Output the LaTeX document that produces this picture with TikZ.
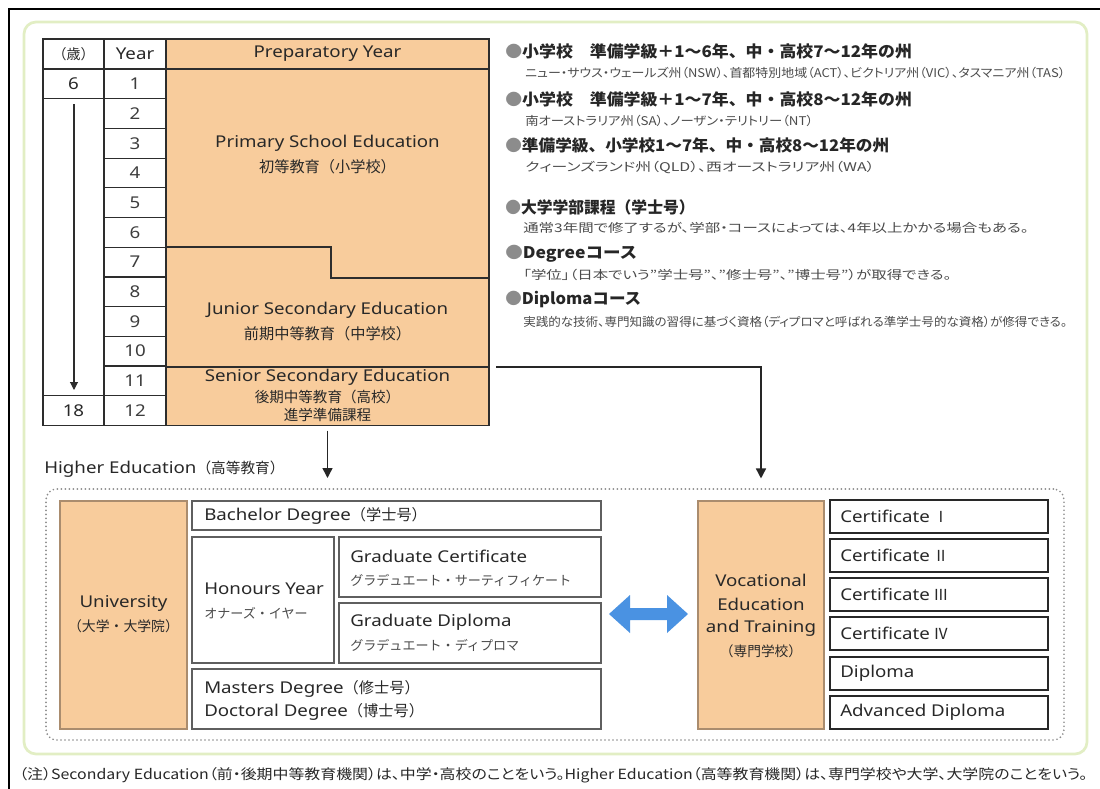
\documentclass[tikz,border=0pt]{standalone}
\usepackage{fontspec}
\usepackage{graphicx}
\setmainfont{Noto Sans CJK JP}
\newfontfamily\jpp[RawFeature=+palt]{Noto Sans CJK JP}
\newfontfamily\lt[FakeStretch=1.15]{Noto Sans}
\usetikzlibrary{arrows.meta,fit,calc}
\definecolor{orfill}{RGB}{248,204,156}
\definecolor{obline}{RGB}{170,140,110}
\definecolor{tline}{RGB}{45,45,45}
\definecolor{wline}{RGB}{95,95,95}
\definecolor{cline}{RGB}{40,40,40}
\definecolor{txt}{RGB}{40,40,40}
\definecolor{subt}{RGB}{75,75,75}
\definecolor{bul}{RGB}{140,140,140}
\definecolor{frm}{RGB}{226,238,196}
\definecolor{blu}{RGB}{74,146,226}
\definecolor{dotc}{RGB}{140,140,140}
\newcommand\fsz[1]{\fontsize{#1}{#1}\selectfont}
\newcommand\LT{\lt\fsz{12.2pt}}
\begin{document}
\begin{tikzpicture}[x=0.75pt,y=-0.75pt,
  cell/.style={draw=tline, line width=0.9pt, inner sep=0pt, fill=white},
  wbox/.style={draw=wline, line width=1.1pt, inner sep=0pt, fill=white},
  cbox/.style={draw=cline, line width=1.4pt, inner sep=0pt, fill=white},
  obox/.style={draw=obline, line width=0.8pt, inner sep=0pt, fill=orfill},
  region/.style={inner sep=0pt},
  t/.style={text=txt, inner sep=0pt, font=\LT},
  jt/.style={text=txt, inner sep=0pt, font=\fsz{11.4pt}},
  js/.style={text=subt, inner sep=0pt, font=\fsz{9.8pt}},
  hd/.style={text=black!85, inner sep=0pt, anchor=west, font=\fsz{12pt}\bfseries},
  sb/.style={text=subt, inner sep=0pt, anchor=west, font=\jpp\fsz{9pt}},
  arr/.style={draw=black!85, line width=1.1pt, -{Triangle[width=7.5pt,length=7.5pt]}},
  tabline/.style={draw=tline, line width=0.9pt}
]
\useasboundingbox (0,0) rectangle (1100,789);
\fill[white] (0,0) rectangle (1100,789);
% outer frame
\draw[line width=1.5pt, black] (9,789) -- (9,9) -- (1100,9);
\draw[frm, line width=2pt, rounded corners=9pt] (24,22) rectangle (1087,754);

% ---------- table ----------
\node[cell, fit={(43,39)(104,69)}] (agehd) {};
\node[jt, font=\fsz{10.5pt}] (agehdt) at (agehd) {（歳）};
\node[cell, fit={(43,69)(104,98.7)}] (age6) {};
\node[t] (age6t) at (age6) {6};
\node[cell, fit={(43,98.7)(104,395.7)}] (agemid) {};
\node[cell, fit={(43,395.7)(104,425.4)}] (age18) {};
\node[t] (age18t) at (age18) {18};
\coordinate (ageTop) at (74,104);
\coordinate (ageBot) at (74,390);
\draw[draw=tline, line width=0.8pt, -{Triangle[width=6pt,length=6pt]}] (ageTop) -- (ageBot);

\node[cell, fit={(104,39)(166,69)}] (yrhd) {};
\node[t] (yrhdt) at (yrhd) {Year};
\foreach \i in {1,...,12} {
  \node[cell, fit={(104,{69+(\i-1)*29.7})(166,{69+\i*29.7})}] (yr\i) {};
  \node[t, text=txt!90] (yrt\i) at (yr\i) {\i};
}

% orange area
\node[draw=tline, line width=0.9pt, fill=orfill, inner sep=0pt, fit={(166,39)(489,69)}] (prep) {};
\node[t] (prept) at (prep) {Preparatory Year};
\fill[orfill] (166,69) rectangle (489,425.4);
\node[region, fit={(166,69)(489,247)}] (prim) {};
\node[region, fit={(166,247)(489,367)}] (jun) {};
\node[region, fit={(166,367)(489,425.4)}] (sen) {};
\draw[tabline] (166,247) -- (331,247) -- (331,278) -- (489,278);
\draw[tabline] (166,367) -- (489,367);
\draw[tabline] (166,69) rectangle (489,425.4);

\node[t] (primt1) at (327.5,143) {Primary School Education};
\node[jt] (primt2) at (327.5,167) {初等教育（小学校）};
\node[t] (junt1) at (327.5,310) {Junior Secondary Education};
\node[jt] (junt2) at (327.5,334) {前期中等教育（中学校）};
\node[t] (sent1) at (327.5,377.5) {Senior Secondary Education};
\node[jt, font=\fsz{10.9pt}] (sent2) at (327.5,397) {後期中等教育（高校）};
\node[jt, font=\fsz{10.9pt}] (sent3) at (327.5,414.5) {進学準備課程};

% ---------- right notes ----------
\node[hd] (h1) at (505,51) {\resizebox{305pt}{\height}{{\color{bul}●}小学校　準備学級＋1～6年、中・高校7～12年の州}};
\node[sb] (s1) at (525,73) {\resizebox{405pt}{\height}{ニュー・サウス・ウェールズ州（NSW）、首都特別地域（ACT）、ビクトリア州（VIC）、タスマニア州（TAS）}};
\node[hd] (h2) at (505,99) {\resizebox{305pt}{\height}{{\color{bul}●}小学校　準備学級＋1～7年、中・高校8～12年の州}};
\node[sb] (s2) at (525,121) {\resizebox{216pt}{\height}{南オーストラリア州（SA）、ノーザン・テリトリー（NT）}};
\node[hd] (h3) at (505,145) {\resizebox{288pt}{\height}{{\color{bul}●}準備学級、小学校1～7年、中・高校8～12年の州}};
\node[sb] (s3) at (525,167) {\resizebox{262pt}{\height}{クィーンズランド州（QLD）、西オーストラリア州（WA）}};
\node[hd] (h4) at (505,207) {\resizebox{142pt}{\height}{{\color{bul}●}大学学部課程（学士号）}};
\node[sb] (s4) at (523,228) {\resizebox{379pt}{\height}{通常3年間で修了するが、学部・コースによっては、4年以上かかる場合もある。}};
\node[hd] (h5) at (505,254) {\resizebox{99pt}{\height}{{\color{bul}●}Degreeコース}};
\node[sb] (s5) at (523,275) {\resizebox{321pt}{\height}{「学位」（日本でいう”学士号”、”修士号”、”博士号”）が取得できる。}};
\node[hd] (h6) at (505,300) {\resizebox{102pt}{\height}{{\color{bul}●}Diplomaコース}};
\node[sb] (s6) at (523,322) {\resizebox{408pt}{\height}{実践的な技術、専門知識の習得に基づく資格（ディプロマと呼ばれる準学士号的な資格）が修得できる。}};

% ---------- higher education ----------
\node[jt, anchor=west, font=\fsz{11pt}] (hetxt) at (44,469) {{\LT Higher Education}（高等教育）};
\node[draw=dotc, line width=1.4pt, dash pattern=on 0pt off 3pt, line cap=round, rounded corners=8pt, inner sep=0pt, fit={(46,489)(1064,740)}] (hebox) {};

\node[obox, fit={(60,501)(187,729)}] (uni) {};
\node[t] (unit1) at (123.5,603) {University};
\node[jt, font=\fsz{10.4pt}] (unit2) at (123.5,626) {（大学・大学院）};

\node[wbox, fit={(192,501)(601,530)}] (bach) {};
\node[jt, anchor=west] (bacht) at (204,516) {{\LT Bachelor Degree}（学士号）};
\node[wbox, fit={(192,537)(334,663)}] (hon) {};
\node[t, anchor=west] (hont1) at (204,589) {Honours Year};
\node[js, anchor=west] (hont2) at (204,613) {オナーズ・イヤー};
\node[wbox, fit={(339,537)(601,597)}] (gcert) {};
\node[t, anchor=west] (gcertt1) at (350,556) {Graduate Certificate};
\node[js, anchor=west] (gcertt2) at (350,580) {グラデュエート・サーティフィケート};
\node[wbox, fit={(339,603)(601,663)}] (gdip) {};
\node[t, anchor=west] (gdipt1) at (350,622) {Graduate Diploma};
\node[js, anchor=west] (gdipt2) at (350,645) {グラデュエート・ディプロマ};
\node[wbox, fit={(192,669)(601,729)}] (mast) {};
\node[jt, anchor=west] (mastt1) at (204,689) {{\LT Masters Degree}（修士号）};
\node[jt, anchor=west] (mastt2) at (204,712) {{\LT Doctoral Degree}（博士号）};

% blue double arrow
\fill[blu] (609,614) -- (630,595) -- (630,608) -- (667,608) -- (667,595) -- (688,614)
  -- (667,633) -- (667,620) -- (630,620) -- (630,633) -- cycle;

\node[obox, fit={(698,501)(824,729)}] (voc) {};
\node[t] (voct1) at (761,580) {Vocational};
\node[t] (voct2) at (761,604) {Education};
\node[t] (voct3) at (761,628) {and Training};
\node[jt, font=\fsz{10.3pt}] (voct4) at (761,651) {（専門学校）};

\node[cbox, fit={(830,500)(1048,533)}] (c1) {};
\node[jt, anchor=west] (c1t) at (840,516.5) {{\LT Certificate} Ⅰ};
\node[cbox, fit={(830,539)(1048,572)}] (c2) {};
\node[jt, anchor=west] (c2t) at (840,555.5) {{\LT Certificate} Ⅱ};
\node[cbox, fit={(830,578)(1048,611)}] (c3) {};
\node[jt, anchor=west] (c3t) at (840,594.5) {{\LT Certificate} Ⅲ};
\node[cbox, fit={(830,617)(1048,650)}] (c4) {};
\node[jt, anchor=west] (c4t) at (840,633.5) {{\LT Certificate} Ⅳ};
\node[cbox, fit={(830,657)(1048,690)}] (c5) {};
\node[t, anchor=west] (c5t) at (840,673.5) {Diploma};
\node[cbox, fit={(830,696)(1048,729)}] (c6) {};
\node[t, anchor=west] (c6t) at (840,712.5) {Advanced Diploma};

% arrows
\coordinate (he) at (327.5,478);
\draw[arr] ($(sen.south)+(0,5)$) -- (he);
\coordinate (a2s) at (496,367);
\draw[arr] (a2s) -| ($(voc.north)+(0,-22)$);

% footnote
\node[anchor=west, text=txt, inner sep=0pt] (note) at (19,775) {\resizebox{801pt}{\height}{\jpp\fsz{10.5pt}（注）Secondary Education（前・後期中等教育機関）は、中学・高校のことをいう。Higher Education（高等教育機関）は、専門学校や大学、大学院のことをいう。}};
\end{tikzpicture}
\end{document}
